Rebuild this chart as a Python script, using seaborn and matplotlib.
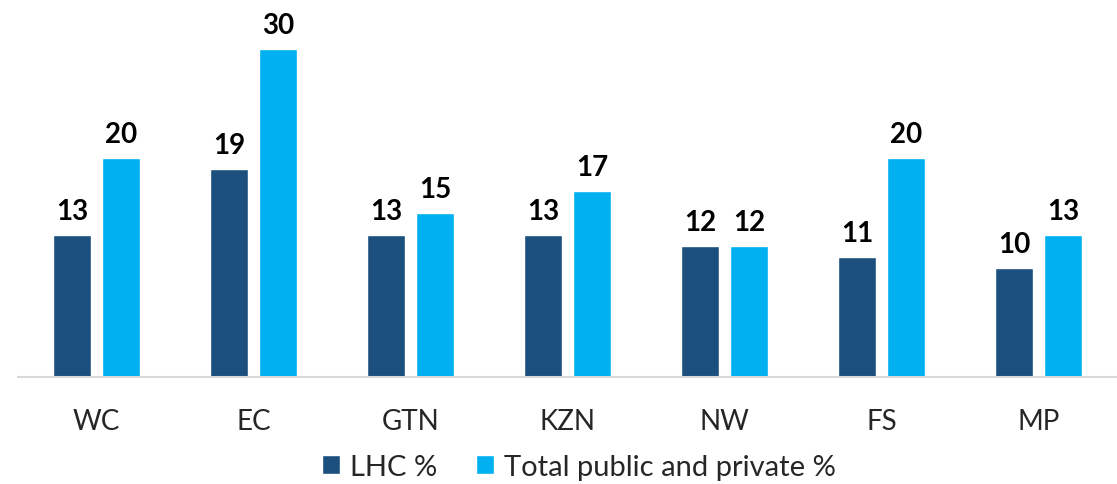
import matplotlib
matplotlib.use("Agg")
import matplotlib.pyplot as plt
import seaborn as sns
import pandas as pd

categories = ["WC", "EC", "GTN", "KZN", "NW", "FS", "MP"]
lhc = [13, 19, 13, 13, 12, 11, 10]
total = [20, 30, 15, 17, 12, 20, 13]
series_names = ["LHC %", "Total public and private %"]
colors = ["#1B4F7E", "#00B0F0"]

df = pd.DataFrame({
    "cat": categories * 2,
    "val": lhc + total,
    "series": [series_names[0]] * len(categories) + [series_names[1]] * len(categories),
})

sns.set_theme(style="white")
plt.rcParams["font.family"] = ["Lato", "DejaVu Sans"]

fig = plt.figure(figsize=(11.17, 4.85), dpi=100)
ax = fig.add_axes([18 / 1117, 1 - 378 / 485, (1117 - 18) / 1117, 378 / 485])

sns.barplot(data=df, x="cat", y="val", hue="series", palette=colors,
            width=0.624, gap=0.224, ax=ax, legend=True, saturation=1)

ax.set_xlim(-0.5, 6.5)
ax.set_ylim(0, 378 / 10.93)
for c in ax.containers:
    ax.bar_label(c, fmt="%d", padding=8, fontsize=20, fontweight="bold", color="black")

for s in ["top", "right", "left"]:
    ax.spines[s].set_visible(False)
ax.spines["bottom"].set_color("#D9D9D9")
ax.spines["bottom"].set_linewidth(1.5)
ax.set_yticks([])
ax.set_xlabel("")
ax.set_ylabel("")
ax.tick_params(axis="x", length=0, pad=22, labelsize=20)

leg = ax.legend(loc="center", bbox_to_anchor=(579 / 1117, 1 - 468 / 485),
                bbox_transform=fig.transFigure, ncol=2, frameon=False,
                fontsize=21, handlelength=0.62, handleheight=0.62,
                handletextpad=0.35, columnspacing=1.3)

fig.savefig("out.png", dpi=100)
